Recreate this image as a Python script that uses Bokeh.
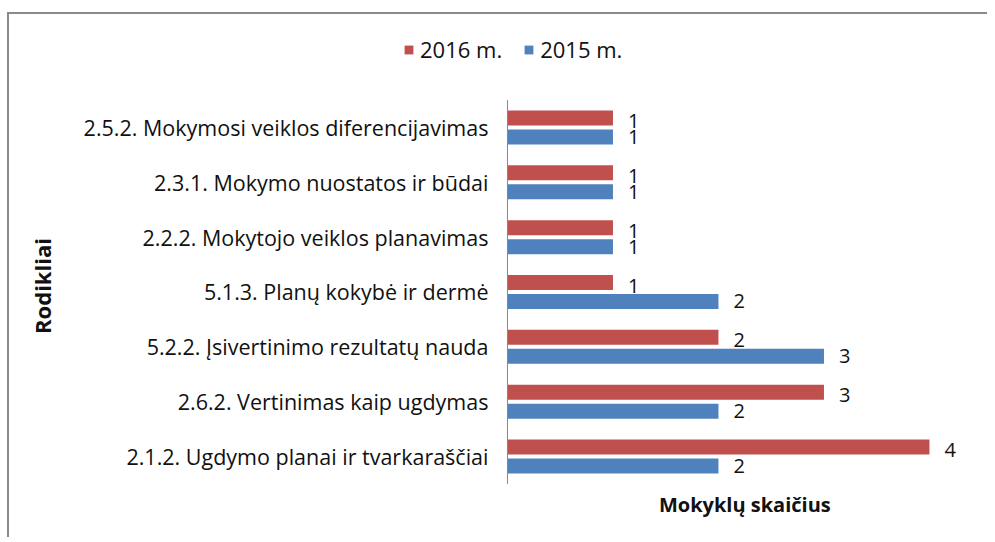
import math
from bokeh.plotting import figure
from bokeh.models import Range1d, Legend, LegendItem, ColumnDataSource
from bokeh.transform import dodge
from bokeh.core.properties import value
from bokeh.embed import file_html
from bokeh.resources import INLINE

categories = [
    "2.1.2. Ugdymo planai ir tvarkaraščiai",
    "2.6.2. Vertinimas kaip ugdymas",
    "5.2.2. Įsivertinimo rezultatų nauda",
    "5.1.3. Planų kokybė ir dermė",
    "2.2.2. Mokytojo veiklos planavimas",
    "2.3.1. Mokymo nuostatos ir būdai",
    "2.5.2. Mokymosi veiklos diferencijavimas",
]
v2016 = [4, 3, 2, 1, 1, 1, 1]
v2015 = [2, 2, 3, 2, 1, 1, 1]
series_names = ["2016 m.", "2015 m."]
x_title = "Mokyklų skaičius"
y_title = "Rodikliai"
x_max = 4.5

RED = "#C0504D"
BLUE = "#4F81BD"
FONT = "Open Sans"
TXT = "#111111"
n = len(categories)
pos = list(range(n))

src = ColumnDataSource(dict(
    cat=categories, pos=pos, zero=[0] * n, v2016=v2016, v2015=v2015,
    l2016=[str(v) for v in v2016], l2015=[str(v) for v in v2015],
))

p = figure(
    width=980, height=525,
    x_range=Range1d(-4.720, 4.569),
    y_range=Range1d(-1.514, 8.061),
    output_backend="svg", toolbar_location=None,
    min_border=0,
)
p.styles = {"border-top": "2px solid #8a8a8a", "border-left": "2px solid #8a8a8a",
            "margin-top": "12px", "margin-left": "7px"}
p.axis.visible = False
p.grid.visible = False
p.outline_line_color = None

bh = 0.274
r16 = p.hbar(y=dodge("pos", 0.173), right="v2016", left=0, height=bh,
             source=src, fill_color=RED, line_color=None)
r15 = p.hbar(y=dodge("pos", -0.173), right="v2015", left=0, height=bh,
             source=src, fill_color=BLUE, line_color=None)

# value labels
p.text(x="v2016", y=dodge("pos", 0.173), text="l2016", source=src,
       x_offset=15, y_offset=3, text_baseline="middle", text_align="left",
       text_font=value(FONT), text_font_size="20px", text_color=TXT)
p.text(x="v2015", y=dodge("pos", -0.173), text="l2015", source=src,
       x_offset=15, text_baseline="middle", text_align="left",
       text_font=value(FONT), text_font_size="20px", text_color=TXT)

# category axis: line and labels
p.segment(x0=0, y0=-0.5, x1=0, y1=n - 0.5, line_color="#868686", line_width=1)
p.text(x="zero", y="pos", text="cat", source=src,
       x_offset=-19, y_offset=0, text_baseline="middle", text_align="right",
       text_font=value(FONT), text_font_size="21.5px", text_color=TXT)

# axis titles
p.text(x=[x_max / 2], y=[-0.5], text=[x_title], y_offset=21,
       text_baseline="middle", text_align="center",
       text_font=value(FONT), text_font_style="bold", text_font_size="20px", text_color=TXT)
p.text(x=[-4.41], y=[(n - 1) / 2], text=[y_title], y_offset=-6, angle=math.pi / 2,
       text_baseline="middle", text_align="center",
       text_font=value(FONT), text_font_style="bold", text_font_size="22px", text_color=TXT)

legend = Legend(
    items=[LegendItem(label=series_names[0], renderers=[r16]),
           LegendItem(label=series_names[1], renderers=[r15])],
    orientation="horizontal", location=(394, 475),
    padding=0, margin=0, spacing=21, label_standoff=6,
    glyph_width=11, glyph_height=11, label_height=20,
    label_text_font=FONT, label_text_font_size="22px", label_text_color=TXT,
    border_line_color=None, background_fill_alpha=0,
)
p.add_layout(legend)

open("out.html", "w").write(file_html(p, INLINE))
